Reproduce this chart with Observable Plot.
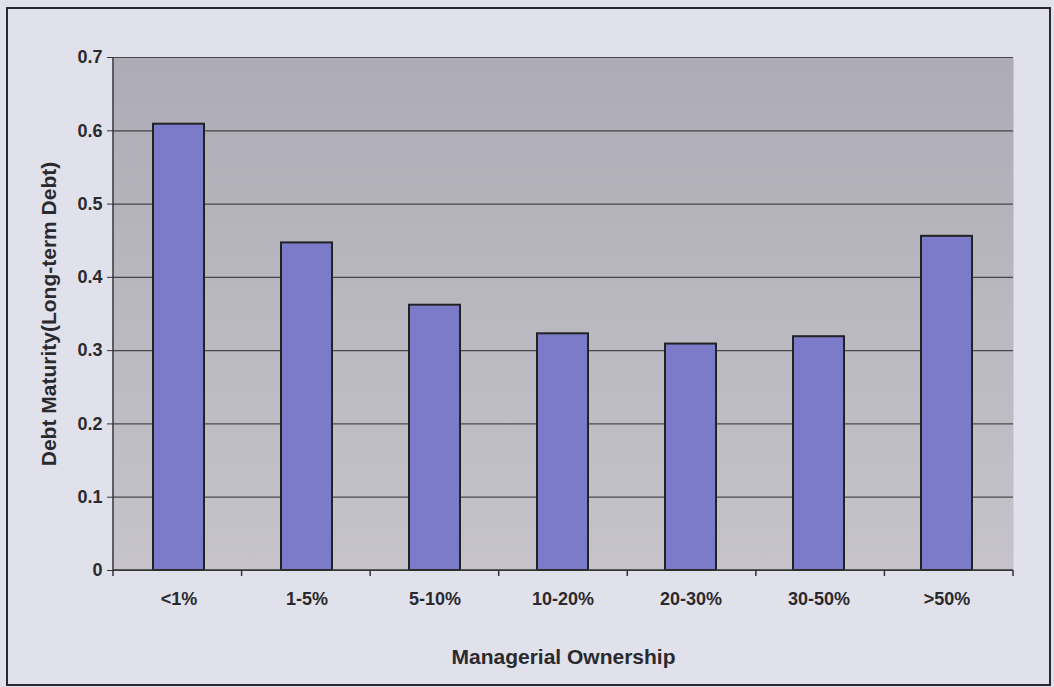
<!DOCTYPE html>
<html><head><meta charset="utf-8">
<script src="https://cdn.jsdelivr.net/npm/d3@7"></script>
<script src="https://cdn.jsdelivr.net/npm/@observablehq/plot@0.6"></script>
<style>
html,body{margin:0;padding:0;background:#e1e1ec;}
#wrap{position:relative;width:1054px;height:687px;overflow:hidden;}
#border{position:absolute;left:6px;top:7px;width:1041px;height:675px;border:2px solid #2a2a2e;box-sizing:content-box;pointer-events:none;}
svg{font-family:"Liberation Sans",Arial,sans-serif;}
</style></head>
<body><div id="wrap"><div id="border"></div></div>
<script>
const categories = ["<1%","1-5%","5-10%","10-20%","20-30%","30-50%",">50%"];
const values = [0.609, 0.447, 0.362, 0.323, 0.309, 0.319, 0.456];
const yTicks = [0,0.1,0.2,0.3,0.4,0.5,0.6,0.7];
const data = categories.map((c,i)=>({cat:c, v:values[i]}));

const chart = Plot.plot({
  width:1054, height:687,
  marginLeft:113, marginRight:41, marginTop:57, marginBottom:117,
  style:{background:"transparent", fontFamily:"Liberation Sans, Arial, sans-serif", color:"#2a2a2e"},
  x:{domain:categories, paddingInner:0.6, paddingOuter:0.3, label:null},
  y:{domain:[0,0.7], label:null},
  marks:[
    Plot.frame({fill:"url(#bggrad)", stroke:"none"}),
    Plot.gridY(yTicks, {stroke:"#333", strokeOpacity:0.85, strokeWidth:1.2}),
    Plot.barY(data, {x:"cat", y:"v", fill:"#7b7bc9", stroke:"#222", strokeWidth:2}),
    Plot.axisY(yTicks, {tickSize:6, tickPadding:5, fontSize:18, fontWeight:"bold", stroke:"#333", fill:"#2a2a2e", tickFormat:d=>d===0?"0":d3.format(".1f")(d), label:null}),
    Plot.axisX({tickSize:0, tickPadding:22, fontSize:18, fontWeight:"bold", fill:"#2a2a2e", label:null}),
    Plot.text(["Managerial Ownership"], {frameAnchor:"bottom", dy:93, fontSize:21, fontWeight:"bold", fill:"#2a2a2e", wordSpacing:8}),
    Plot.text(["Debt Maturity(Long-term Debt)"], {frameAnchor:"left", textAnchor:"middle", dx:-64, rotate:-90, fontSize:21, fontWeight:"bold", fill:"#2a2a2e"})
  ]
});

const svg = d3.select(chart);
const defs = svg.insert("defs", ":first-child");
const g = defs.append("linearGradient").attr("id","bggrad").attr("x1",0).attr("y1",0).attr("x2",0).attr("y2",1);
g.append("stop").attr("offset","0%").attr("stop-color","#adabb5");
g.append("stop").attr("offset","100%").attr("stop-color","#c6c4ca");

// axis lines and x tick marks at band boundaries, from the library's scales
const xs = chart.scale("x");
const ys = chart.scale("y");
const xr = xs.range, yr = ys.range;
const n = categories.length;
const bounds = d3.range(n+1).map(i=>xr[0] + i*((xr[1]-xr[0])/n));
const ag = svg.append("g").attr("stroke","#333").attr("stroke-width",1.5);
ag.append("line").attr("x1",xr[0]).attr("x2",xr[0]).attr("y1",yr[0]).attr("y2",yr[1]);
ag.append("line").attr("x1",xr[0]).attr("x2",xr[1]).attr("y1",yr[0]).attr("y2",yr[0]);
ag.selectAll("line.t").data(bounds).join("line").attr("class","t")
  .attr("x1",d=>d).attr("x2",d=>d).attr("y1",yr[0]).attr("y2",yr[0]+6);

document.getElementById("wrap").appendChild(chart);
</script>
</body></html>
